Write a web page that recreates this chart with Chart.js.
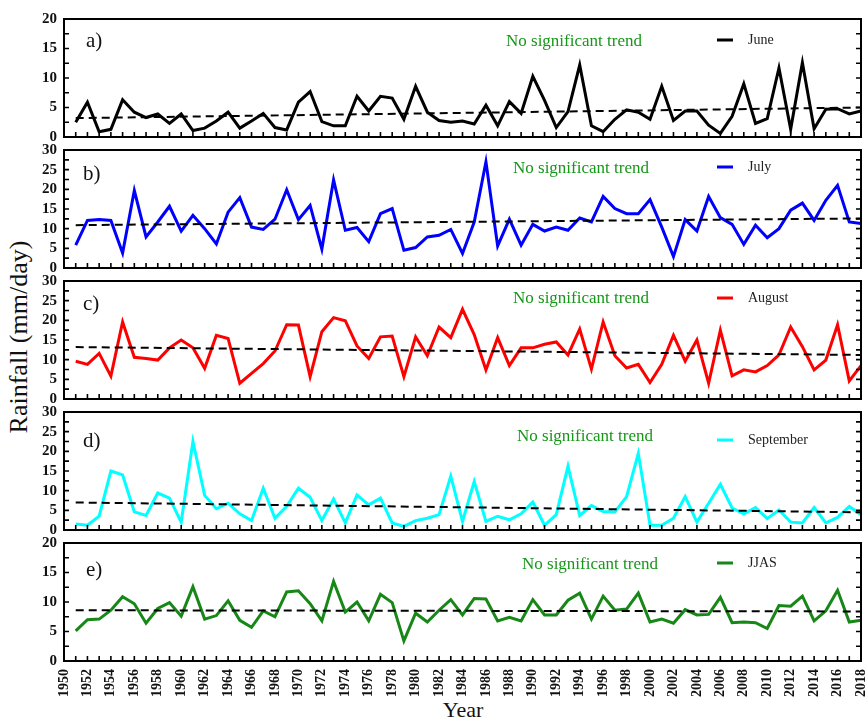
<!DOCTYPE html>
<html>
<head>
<meta charset="utf-8">
<title>Monthly rainfall 1951-2018</title>
<script src="https://cdn.jsdelivr.net/npm/chart.js@4/dist/chart.umd.min.js"></script>
<style>
  html, body { margin: 0; padding: 0; background: #fff; }
  #wrap { position: relative; width: 867px; height: 722px; overflow: hidden;
          font-family: "Liberation Serif", "Times New Roman", serif; }
  #wrap canvas { position: absolute; left: 0; }
  .txt { position: absolute; white-space: nowrap; line-height: 1; transform: translateY(-50%); }
  .tag { font-size: 21px; color: #111; }
  .nst { font-size: 17px; color: #17961a; }
  .leg { font-size: 14px; color: #222; }
  .swatch { position: absolute; width: 16px; height: 3px; transform: translateY(-50%); }
  #ytitle { position: absolute; left: 19px; top: 337px; font-size: 26px; color: #111;
            white-space: nowrap; line-height: 1; transform: translate(-50%, -50%) rotate(-90deg); }
  #xtitle { position: absolute; left: 463px; top: 710px; font-size: 22px; color: #111;
            white-space: nowrap; line-height: 1; transform: translate(-50%, -50%); }
</style>
</head>
<body>
<div id="wrap">
  <div id="ytitle">Rainfall (mm/day)</div>
  <div id="xtitle">Year</div>
</div>
<script>
// Years of record
const years = Array.from({ length: 68 }, (_, i) => 1951 + i);

// Mean daily rainfall (mm/day), 1951-2018
const june = [
  2.5, 5.9, 0.9, 1.3, 6.3, 4.2, 3.3, 3.9, 2.3, 3.9,
  1.1, 1.5, 2.7, 4.2, 1.5, 2.7, 4.0, 1.6, 1.2, 5.9,
  7.7, 2.6, 1.9, 1.9, 6.9, 4.4, 6.9, 6.6, 3.0, 8.6,
  4.2, 2.8, 2.5, 2.7, 2.2, 5.4, 1.9, 6.0, 4.0, 10.3,
  6.2, 1.6, 4.3, 12.2, 1.9, 0.9, 3.0, 4.6, 4.2, 3.0,
  8.6, 2.8, 4.4, 4.4, 2.0, 0.6, 3.5, 9.0, 2.3, 3.1,
  11.7, 1.3, 12.6, 1.4, 4.7, 4.8, 3.9, 4.4
];
const july = [
  5.8, 12.1, 12.3, 12.1, 3.8, 19.7, 7.9, 11.7, 15.7, 9.4,
  13.4, 10.0, 6.1, 14.2, 17.9, 10.4, 9.8, 12.4, 19.9, 12.3,
  15.9, 4.8, 22.4, 9.6, 10.3, 6.7, 13.8, 15.1, 4.5, 5.2,
  7.9, 8.3, 9.8, 3.7, 11.7, 27.0, 5.6, 12.4, 5.8, 11.1,
  9.4, 10.4, 9.6, 12.7, 11.7, 18.2, 15.1, 13.8, 13.8, 17.4,
  10.4, 2.9, 12.3, 9.4, 18.2, 12.8, 11.1, 6.0, 10.9, 7.7,
  10.0, 14.7, 16.5, 12.1, 17.2, 21.0, 11.7, 11.3
];
const august = [
  9.6, 8.8, 11.6, 5.8, 19.6, 10.6, 10.3, 9.9, 13.0, 15.0,
  13.0, 7.8, 16.2, 15.4, 4.0, 6.5, 9.0, 12.2, 18.9, 18.8,
  5.7, 17.1, 20.7, 19.9, 13.5, 10.3, 15.8, 16.0, 5.7, 15.8,
  11.0, 18.3, 15.6, 22.8, 16.4, 7.4, 15.6, 8.5, 13.0, 13.0,
  13.9, 14.5, 11.2, 17.8, 7.6, 19.6, 11.0, 7.9, 8.8, 4.2,
  8.8, 16.2, 9.6, 15.0, 4.0, 17.5, 5.9, 7.4, 6.9, 8.5,
  11.2, 18.3, 13.3, 7.4, 9.9, 18.9, 4.6, 8.5
];
const september = [
  1.5, 1.2, 3.5, 15.0, 14.0, 4.6, 3.7, 9.4, 8.1, 2.0,
  22.5, 8.8, 5.4, 6.8, 4.1, 2.4, 10.6, 3.0, 6.0, 10.6,
  8.3, 2.4, 7.9, 1.8, 8.9, 6.4, 8.1, 1.8, 0.9, 2.4,
  3.0, 3.9, 13.7, 2.2, 12.3, 2.2, 3.5, 2.6, 4.1, 7.1,
  1.2, 3.9, 16.2, 3.7, 6.2, 4.7, 4.6, 8.5, 19.5, 1.2,
  1.2, 3.0, 8.5, 2.0, 6.8, 11.6, 5.6, 4.1, 5.7, 2.9,
  5.1, 2.0, 1.8, 5.7, 1.8, 3.2, 6.0, 3.9
];
const jjas = [
  5.1, 7.0, 7.1, 8.6, 10.9, 9.7, 6.4, 8.9, 9.9, 7.6,
  12.6, 7.1, 7.7, 10.2, 6.9, 5.7, 8.5, 7.5, 11.7, 11.9,
  9.7, 6.8, 13.5, 8.3, 10.0, 6.8, 11.3, 9.9, 3.4, 8.1,
  6.6, 8.6, 10.4, 7.8, 10.6, 10.5, 6.8, 7.4, 6.8, 10.4,
  7.8, 7.8, 10.3, 11.5, 7.1, 11.0, 8.6, 8.8, 11.5, 6.6,
  7.1, 6.4, 8.7, 7.8, 7.9, 10.8, 6.5, 6.6, 6.5, 5.5,
  9.4, 9.3, 11.0, 6.8, 8.5, 12.0, 6.6, 6.9
];

// Linear trend line end values [1951, 2018]
const juneTrend = [3.2, 5.0];
const julyTrend = [10.9, 12.6];
const augustTrend = [13.2, 11.2];
const septemberTrend = [7.0, 4.5];
const jjasTrend = [8.6, 8.4];

// Panel captions
const panelTags = ['a)', 'b)', 'c)', 'd)', 'e)'];
const seriesNames = ['June', 'July', 'August', 'September', 'JJAS'];
const trendNote = 'No significant trend';
const yMaxes = [20, 30, 30, 30, 20];

// ---- layout & styling ----
const seriesValues = [june, july, august, september, jjas];
const trendValues = [juneTrend, julyTrend, augustTrend, septemberTrend, jjasTrend];
const colors = ['#000000', '#0000ff', '#ff0000', '#00ffff', '#178717'];
const plotTops = [19, 150, 281, 412, 543];
const plotH = 118;
const tagPos = [[86, 40], [83, 173], [83, 303], [83, 440], [86, 569]];
const notePos = [[506, 40], [513, 167], [513, 297], [517, 435], [522, 563]];
const legY = [40, 167, 298, 440, 563];

const wrap = document.getElementById('wrap');

function addText(cls, text, x, y, color) {
  const d = document.createElement('div');
  d.className = 'txt ' + cls;
  d.textContent = text;
  d.style.left = x + 'px';
  d.style.top = y + 'px';
  if (color) d.style.color = color;
  wrap.appendChild(d);
}

// Scale label overhang should not shrink the plot area
function noOverhang(s) {
  s.paddingTop = 0;
  s.paddingBottom = 0;
  s.paddingLeft = 0;
  s.paddingRight = 0;
}

// Inward tick marks on bottom/left/right and a closed frame
const framePlugin = {
  id: 'frame',
  afterDatasetsDraw(chart) {
    const { ctx, chartArea: { left, right, top, bottom }, scales: { x, y } } = chart;
    ctx.save();
    ctx.strokeStyle = '#000';
    ctx.lineWidth = 1.6;
    ctx.beginPath();
    x.ticks.forEach(t => {
      if (t.value <= x.min || t.value >= x.max) return;
      const px = x.getPixelForValue(t.value);
      ctx.moveTo(px, bottom);
      ctx.lineTo(px, bottom - 5);
    });
    y.ticks.forEach(t => {
      if (t.value <= y.min || t.value >= y.max) return;
      const py = y.getPixelForValue(t.value);
      ctx.moveTo(left, py); ctx.lineTo(left + 5, py);
      ctx.moveTo(right, py); ctx.lineTo(right - 5, py);
    });
    ctx.stroke();
    ctx.lineWidth = 2;
    ctx.strokeRect(left, top, right - left, bottom - top);
    ctx.restore();
  }
};

seriesValues.forEach((vals, i) => {
  const last = i === seriesValues.length - 1;
  const padTop = 12;
  const canvasTop = plotTops[i] - padTop;
  const canvasH = last ? 722 - canvasTop : plotH + 24;
  const xAxisH = canvasH - padTop - plotH;

  const cv = document.createElement('canvas');
  cv.width = 867;
  cv.height = canvasH;
  cv.style.top = canvasTop + 'px';
  cv.style.width = '867px';
  cv.style.height = canvasH + 'px';
  wrap.appendChild(cv);

  new Chart(cv, {
    type: 'line',
    data: {
      datasets: [
        {
          label: seriesNames[i] + ' trend',
          data: [{ x: years[0], y: trendValues[i][0] }, { x: years[years.length - 1], y: trendValues[i][1] }],
          borderColor: '#000',
          borderWidth: 2,
          borderDash: [8, 5],
          pointRadius: 0,
          fill: false,
          order: 0
        },
        {
          label: seriesNames[i],
          data: years.map((yr, k) => ({ x: yr, y: vals[k] })),
          borderColor: colors[i],
          borderWidth: 3,
          pointRadius: 0,
          tension: 0,
          fill: false,
          order: 1
        }
      ]
    },
    options: {
      responsive: false,
      maintainAspectRatio: false,
      animation: false,
      devicePixelRatio: 1,
      events: [],
      layout: { padding: { top: padTop, right: 6, left: 0, bottom: 0 } },
      plugins: { legend: { display: false }, tooltip: { enabled: false } },
      scales: {
        x: {
          type: 'linear',
          min: 1950,
          max: 2018,
          grid: { display: false, drawTicks: false },
          border: { display: false },
          ticks: {
            display: last,
            stepSize: 1,
            autoSkip: false,
            minRotation: 90,
            maxRotation: 90,
            padding: 8,
            color: '#111',
            font: { family: '"Liberation Serif", serif', size: 14, weight: 'bold' },
            callback: v => (v % 2 === 0 ? String(v) : '')
          },
          afterFit: s => { s.height = xAxisH; noOverhang(s); }
        },
        y: {
          min: 0,
          max: yMaxes[i],
          grid: { display: false, drawTicks: false },
          border: { display: false },
          ticks: {
            stepSize: 2.5,
            autoSkip: false,
            padding: 7,
            color: '#111',
            font: { family: '"Liberation Serif", serif', size: 15, weight: 'bold' },
            callback: v => (v % 5 === 0 ? String(v) : '')
          },
          afterFit: s => { s.width = 64; noOverhang(s); }
        }
      }
    },
    plugins: [framePlugin]
  });

  // Panel captions and legend
  addText('tag', panelTags[i], tagPos[i][0], tagPos[i][1]);
  addText('nst', trendNote, notePos[i][0], notePos[i][1]);
  const sw = document.createElement('div');
  sw.className = 'swatch';
  sw.style.left = '717px';
  sw.style.top = legY[i] + 'px';
  sw.style.background = colors[i];
  wrap.appendChild(sw);
  addText('leg', seriesNames[i], 748, legY[i]);
});
</script>
</body>
</html>
